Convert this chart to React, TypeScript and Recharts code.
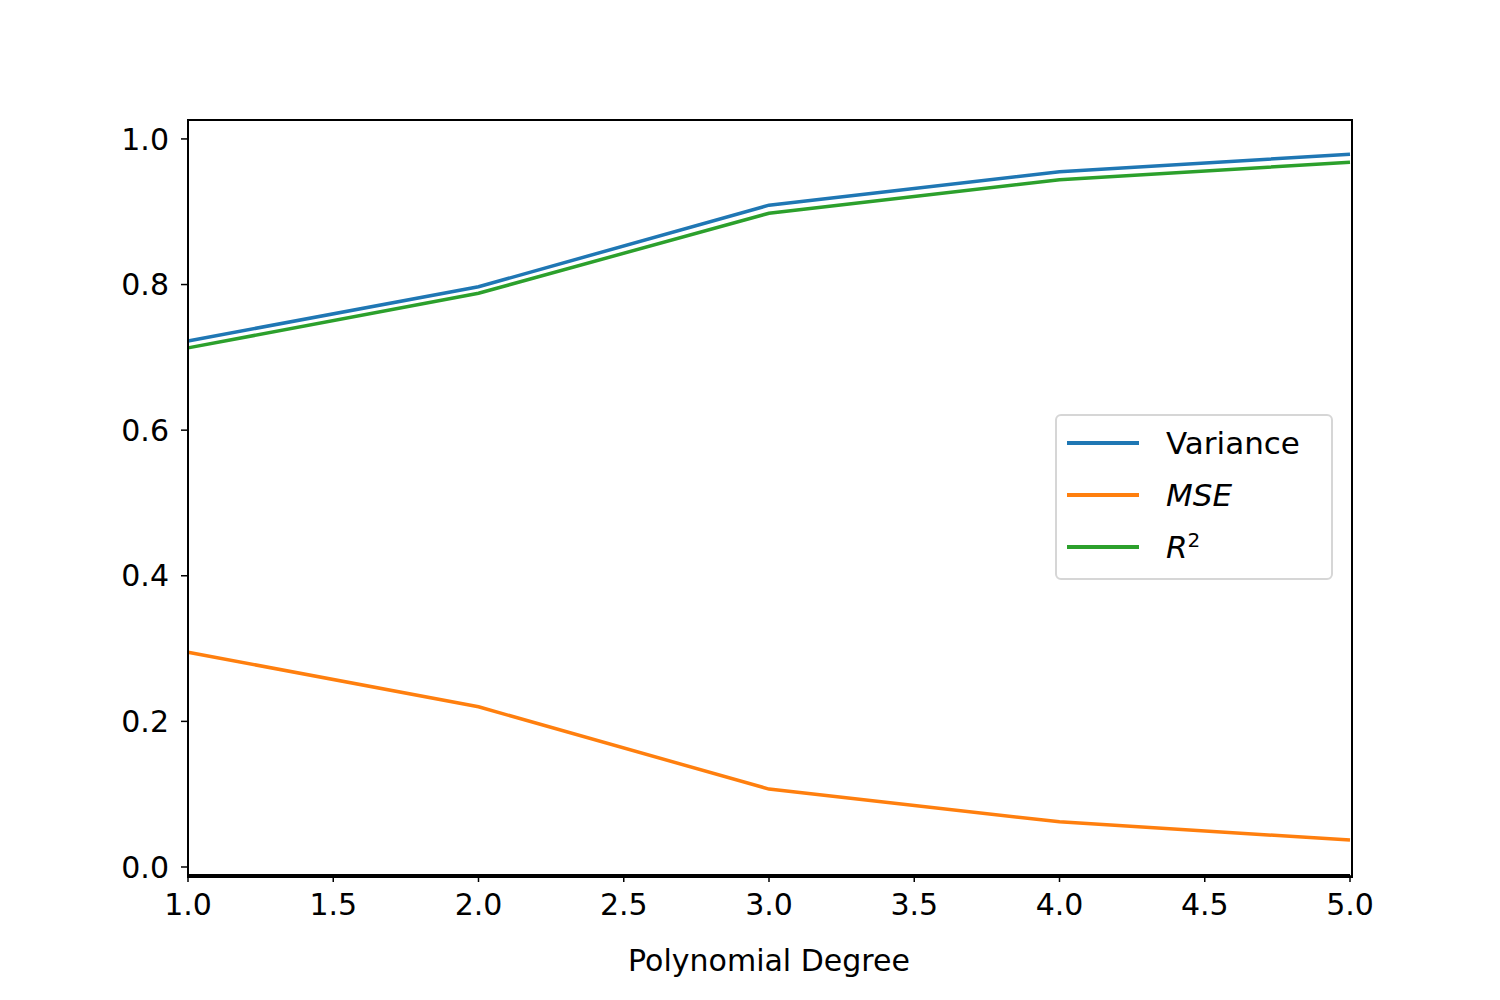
import React from 'react';
import { LineChart, Line, XAxis, YAxis, Legend } from 'recharts';

const degrees = [1, 2, 3, 4, 5];
const variance = [0.7225, 0.797, 0.909, 0.955, 0.979];
const mse = [0.295, 0.22, 0.107, 0.062, 0.037];
const r2 = [0.713, 0.788, 0.898, 0.944, 0.968];
const xTicks = [1, 1.5, 2, 2.5, 3, 3.5, 4, 4.5, 5];
const yTicks = [0, 0.2, 0.4, 0.6, 0.8, 1.0];

const data = degrees.map((d, i) => ({ d, variance: variance[i], mse: mse[i], r2: r2[i] }));
const font = 'DejaVu Sans';

const LegendBox = () => {
  const items = [
    { c: '#1f77b4', l: <span>Variance</span> },
    { c: '#ff7f0e', l: <i>MSE</i> },
    { c: '#2ca02c', l: <span><i>R</i><sup style={{ fontSize: 20 }}>2</sup></span> },
  ];
  return (
    <div style={{ position: 'absolute', left: 1055, top: 414, width: 278, height: 166, border: '2px solid #d6d6d6', borderRadius: 6, background: 'rgba(255,255,255,0.8)', fontFamily: font, fontSize: 31, boxSizing: 'border-box' }}>
      {items.map((it, i) => (
        <div key={i} style={{ position: 'absolute', left: 10, top: 7 + i * 52, height: 40, display: 'flex', alignItems: 'center' }}>
          <div style={{ width: 72, height: 3.5, background: it.c, marginRight: 27 }} />
          {it.l}
        </div>
      ))}
    </div>
  );
};

export default function App() {
  return (
    <div style={{ position: 'absolute', left: 0, top: 0, width: 1500, height: 1000, background: '#fff' }}>
      <LineChart width={1500} height={1000} data={data} margin={{ top: 120, right: 150, left: 108, bottom: 45 }}>
        <XAxis dataKey="d" type="number" domain={[1, 5]} ticks={xTicks} tickFormatter={(v) => v.toFixed(1)} height={80} tickSize={7} tickMargin={12} stroke="#000" tick={{ fill: '#000', fontSize: 30, fontFamily: font }} tickLine={{ stroke: '#000', strokeWidth: 1.5 }} axisLine={{ stroke: '#000', strokeWidth: 2 }} label={{ value: 'Polynomial Degree', position: 'insideBottom', offset: 0, fill: '#000', fontSize: 30, fontFamily: font, dy: 16 }} />
        <YAxis type="number" domain={[-0.011, 1.026]} ticks={yTicks} tickFormatter={(v) => v.toFixed(1)} width={80} tickSize={7} tickMargin={12} stroke="#000" tick={{ fill: '#000', fontSize: 30, fontFamily: font }} tickLine={{ stroke: '#000', strokeWidth: 1.5 }} axisLine={{ stroke: '#000', strokeWidth: 2 }} />
        <Line dataKey="variance" stroke="#1f77b4" strokeWidth={3.5} dot={false} isAnimationActive={false} />
        <Line dataKey="mse" stroke="#ff7f0e" strokeWidth={3.5} dot={false} isAnimationActive={false} />
        <Line dataKey="r2" stroke="#2ca02c" strokeWidth={3.5} dot={false} isAnimationActive={false} />
        <Legend content={() => null} />
      </LineChart>
      <div style={{ position: 'absolute', left: 187, top: 119, width: 1162, height: 755, border: '2px solid #000', pointerEvents: 'none' }} />
      <LegendBox />
    </div>
  );
}
